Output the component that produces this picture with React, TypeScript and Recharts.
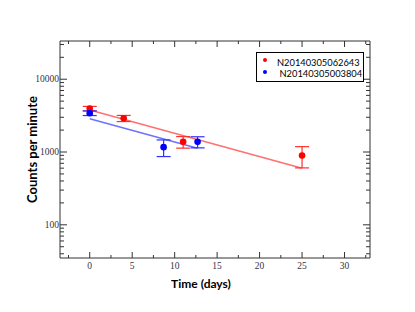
import { ComposedChart, Scatter, Line, XAxis, YAxis, ErrorBar } from "recharts";

// measured points
const redDays = [0, 4, 11, 25];
const redCpm = [3950, 2900, 1380, 895];
const redErr = [280, 280, 250, 290];

const blueDays = [0, 8.7, 12.7];
const blueCpm = [3420, 1166, 1380];
const blueErr = [250, 300, 240];

// fitted decay lines (end points)
const redFitDays = [0, 25];
const redFitCpm = [3780, 598];
const blueFitDays = [0, 12.7];
const blueFitCpm = [2870, 1130];

const xMajor = [0, 5, 10, 15, 20, 25, 30];
const xMinor = [-2.5, 2.5, 7.5, 12.5, 17.5, 22.5, 27.5, 32.5];
const yMajor = [100, 1000, 10000];
const yMinor = [40, 50, 60, 70, 80, 90, 200, 300, 400, 500, 600, 700, 800, 900, 2000, 3000, 4000, 5000, 6000, 7000, 8000, 9000, 20000, 30000];

const seriesNames = ["N20140305062643", "N20140305003804"];
const seriesColors = ["#f00", "#00f"];

const redData = redDays.map((x, i) => ({ x, y: redCpm[i], err: redErr[i] }));
const blueData = blueDays.map((x, i) => ({ x, y: blueCpm[i], err: blueErr[i] }));
const redFit = redFitDays.map((x, i) => ({ x, y: redFitCpm[i] }));
const blueFit = blueFitDays.map((x, i) => ({ x, y: blueFitCpm[i] }));

const xTicks = [...xMajor, ...xMinor].sort((a, b) => a - b);
const yTicks = [...yMajor, ...yMinor].sort((a, b) => a - b);

const axisColor = "#333";
const tickFont = "'Liberation Serif', serif";
const labelFont = "Lato, sans-serif";

const BottomTick = (p: any) => {
  const major = xMajor.includes(p.payload.value);
  return (
    <g>
      <line x1={p.x} x2={p.x} y1={p.y} y2={p.y - (major ? 6 : 3)} stroke={axisColor} />
      {major && (
        <text x={p.x} y={p.y + 11} textAnchor="middle" fontSize={9.5} fontFamily={tickFont} fill="#334">
          {p.payload.value}
        </text>
      )}
    </g>
  );
};

const TopTick = (p: any) => {
  const major = xMajor.includes(p.payload.value);
  return <line x1={p.x} x2={p.x} y1={p.y} y2={p.y + (major ? 6 : 3)} stroke={axisColor} />;
};

const LeftTick = (p: any) => {
  const major = yMajor.includes(p.payload.value);
  return (
    <g>
      <line x1={p.x} x2={p.x + (major ? 7 : 4)} y1={p.y} y2={p.y} stroke={axisColor} />
      {major && (
        <text x={p.x - 1} y={p.y + 3} textAnchor="end" fontSize={9.5} fontFamily={tickFont} fill="#334">
          {p.payload.value}
        </text>
      )}
    </g>
  );
};

const RightTick = (p: any) => {
  const major = yMajor.includes(p.payload.value);
  return <line x1={p.x} x2={p.x - (major ? 7 : 4)} y1={p.y} y2={p.y} stroke={axisColor} />;
};

const Dot = (color: string) => (p: any) => <circle cx={p.cx} cy={p.cy} r={3.3} fill={color} />;

export default function App() {
  return (
    <div style={{ position: "absolute", left: 0, top: 0, width: 415, height: 312, background: "#fff" }}>
      <ComposedChart width={415} height={312} margin={{ top: 31, right: 35, bottom: 24, left: 20 }}>
        <XAxis
          xAxisId="b"
          type="number"
          dataKey="x"
          domain={[-3.5, 33]}
          ticks={xTicks}
          interval={0}
          tick={BottomTick}
          tickLine={false}
          tickSize={0}
          tickMargin={0}
          height={30}
          stroke={axisColor}
          allowDataOverflow
          label={{
            value: "Time (days)",
            position: "insideBottom",
            offset: 0,
            dx: -14,
            fontFamily: labelFont,
            fontWeight: 700,
            fontSize: 12,
            fill: "#000",
          }}
        />
        <XAxis
          xAxisId="t"
          orientation="top"
          type="number"
          dataKey="x"
          domain={[-3.5, 33]}
          ticks={xTicks}
          interval={0}
          tick={TopTick}
          tickLine={false}
          tickSize={0}
          tickMargin={0}
          height={10}
          stroke={axisColor}
          allowDataOverflow
        />
        <YAxis
          yAxisId="l"
          type="number"
          scale="log"
          domain={[35, 33500]}
          ticks={yTicks}
          interval={0}
          tick={LeftTick}
          tickLine={false}
          tickSize={0}
          tickMargin={0}
          width={40}
          stroke={axisColor}
          allowDataOverflow
          label={{
            value: "Counts per minute",
            angle: -90,
            position: "insideLeft",
            offset: 12,
            style: { textAnchor: "middle" },
            fontFamily: labelFont,
            fontWeight: 700,
            fontSize: 13,
            fill: "#000",
          }}
        />
        <YAxis
          yAxisId="r"
          orientation="right"
          type="number"
          scale="log"
          domain={[35, 33500]}
          ticks={yTicks}
          interval={0}
          tick={RightTick}
          tickLine={false}
          tickSize={0}
          tickMargin={0}
          width={10}
          stroke={axisColor}
          allowDataOverflow
        />
        <Line xAxisId="b" yAxisId="l" data={redFit} dataKey="y" stroke="#ff7070" strokeWidth={1.5} dot={false} isAnimationActive={false} />
        <Line xAxisId="b" yAxisId="l" data={blueFit} dataKey="y" stroke="#7070ff" strokeWidth={1.5} dot={false} isAnimationActive={false} />
        <Scatter xAxisId="b" yAxisId="l" name={seriesNames[0]} data={redData} dataKey="y" fill="#f00" shape={Dot("#f00")} isAnimationActive={false}>
          <ErrorBar dataKey="err" direction="y" width={7} stroke="#ff3030" strokeWidth={1.2} />
        </Scatter>
        <Scatter xAxisId="b" yAxisId="l" name={seriesNames[1]} data={blueData} dataKey="y" fill="#00f" shape={Dot("#00f")} isAnimationActive={false}>
          <ErrorBar dataKey="err" direction="y" width={7} stroke="#3030ff" strokeWidth={1.2} />
        </Scatter>
      </ComposedChart>
      <div
        style={{
          position: "absolute",
          left: 256,
          top: 52,
          width: 108,
          height: 30,
          border: "1px solid #000",
          background: "#fff",
          boxSizing: "border-box",
          fontFamily: labelFont,
          fontSize: 9.3,
          lineHeight: "11px",
          color: "#000",
        }}
      >
        {seriesNames.map((n, i) => (
          <div key={n} style={{ position: "absolute", left: 0, top: 3.5 + i * 11.5, width: "100%", height: 11 }}>
            <span
              style={{
                position: "absolute",
                left: 5.5,
                top: 1.5,
                width: 4,
                height: 4,
                borderRadius: 2,
                background: seriesColors[i],
              }}
            />
            <span style={{ position: "absolute", left: i === 0 ? 20 : 22.5, top: 0, whiteSpace: "nowrap" }}>{n}</span>
          </div>
        ))}
      </div>
    </div>
  );
}
